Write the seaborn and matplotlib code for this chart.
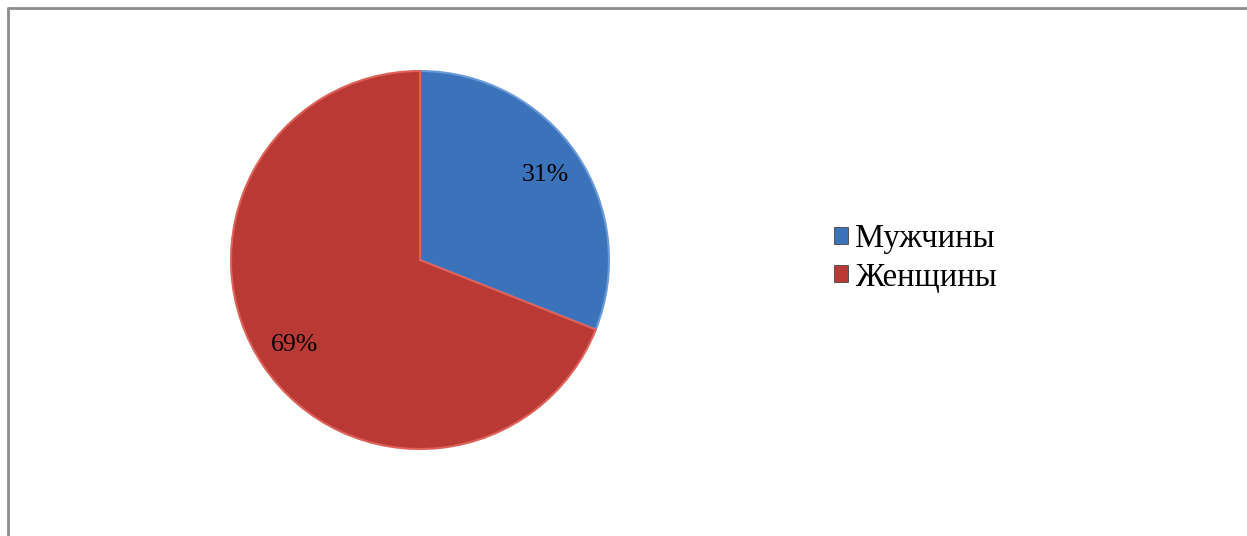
import matplotlib
matplotlib.use("Agg")
import matplotlib.pyplot as plt
import seaborn as sns
from matplotlib.lines import Line2D

categories = ["Мужчины", "Женщины"]
values = [31, 69]
colors = ["#3b73ba", "#b93935"]
edge_colors = ["#6a9ad8", "#e0605a"]

sns.set_theme(style="white")
plt.rcParams['font.family'] = ['Liberation Serif', 'DejaVu Serif']
plt.rcParams['text.color'] = 'black'

W, H = 1247, 536
fig = plt.figure(figsize=(W / 100, H / 100), dpi=100)
fig.patch.set_facecolor("white")

cx, cy, r = 420, 260, 189
half = 200
ax = fig.add_axes([(cx - half) / W, (H - cy - half) / H, 2 * half / W, 2 * half / H])
ax.set_xlim(-half / r, half / r)
ax.set_ylim(-half / r, half / r)
ax.set_aspect("equal")
ax.axis("off")

wedges, texts, autotexts = ax.pie(
    values, colors=colors, startangle=90, counterclock=False, radius=1,
    autopct=lambda p: f"{p:.0f}%", pctdistance=0.8,
    wedgeprops=dict(linewidth=1.5),
    textprops=dict(fontsize=18.5, color="black"),
)
for w, ec in zip(wedges, edge_colors):
    w.set_edgecolor(ec)
ax.set_xlim(-half / r, half / r)
ax.set_ylim(-half / r, half / r)

leg = fig.legend(
    wedges, categories, loc="center left",
    bbox_to_anchor=(821 / W, 1 - 258 / H), frameon=False,
    fontsize=23.5, handlelength=0.43, handleheight=0.43, handletextpad=0.2,
    labelspacing=0.25, borderaxespad=0, labelcolor="black",
)
for h in leg.legend_handles:
    h.set_edgecolor("#444444")
    h.set_linewidth(0.6)

# partial frame (top and left border)
fig.add_artist(Line2D([7.5 / W, 1.0], [1 - 7.5 / H, 1 - 7.5 / H], color="#8c8c8c", lw=2))
fig.add_artist(Line2D([7.5 / W, 7.5 / W], [0, 1 - 7.5 / H], color="#8c8c8c", lw=2))

fig.savefig("out.png", dpi=100, facecolor="white")
